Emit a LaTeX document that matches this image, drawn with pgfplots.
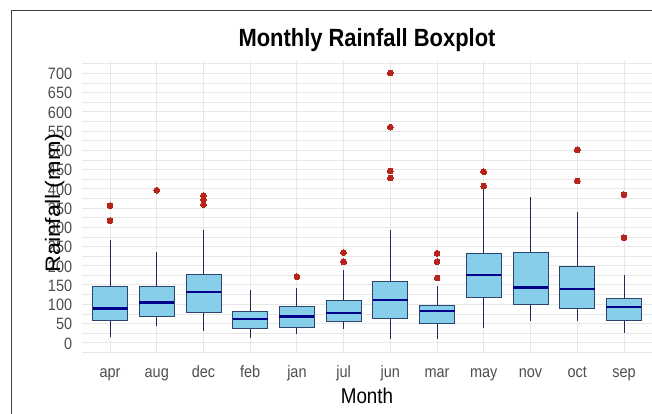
\documentclass[border=0pt]{standalone}
\usepackage{fontspec}
\setmainfont{Liberation Sans}
\usepackage{graphicx}
\usepackage{pgfplots}
\pgfplotsset{compat=1.18}
\usepgfplotslibrary{statistics}

\definecolor{skyfill}{HTML}{87CEEB}
\definecolor{boxedge}{HTML}{2B4470}
\definecolor{medblue}{HTML}{00008B}
\definecolor{whisk}{HTML}{1E2A55}
\definecolor{outred}{HTML}{B8231C}
\definecolor{gridc}{HTML}{E8E8E8}
\definecolor{tickc}{HTML}{4D4D4D}

% the source image is a little narrower than tall, so squeeze text sideways
\newcommand\sq[1]{\scalebox{0.88}[1]{#1}}

\pgfplotsset{
  bx/.style={
    mark=*, mark size=2.9bp,
    mark options={draw=outred, fill=outred, line width=0pt},
    draw=boxedge,
    boxplot/draw direction=y,
    boxplot/box extend=0.75,
    boxplot/whisker extend=0,
    boxplot/every box/.style={fill=skyfill, draw=boxedge, line width=0.9bp},
    boxplot/every whisker/.style={draw=whisk, line width=0.9bp},
    boxplot/every median/.style={draw=medblue, line width=2.3bp},
  },
}

\begin{document}
\begin{tikzpicture}
\begin{axis}[
  at={(82bp,61.5bp)}, anchor=south west,
  scale only axis,
  width=570bp, height=292.9bp,
  xmin=0.4, xmax=12.6,
  ymin=-25.6, ymax=735.6,
  xtick={1,...,12},
  xticklabels={\sq{apr},\sq{aug},\sq{dec},\sq{feb},\sq{jan},\sq{jul},\sq{jun},\sq{mar},\sq{may},\sq{nov},\sq{oct},\sq{sep}},
  ytick={0,50,...,700},
  minor ytick={-25,25,...,725},
  yticklabel={\sq{\pgfmathprintnumber{\tick}}},
  grid=both,
  major grid style={draw=gridc, line width=0.9bp},
  minor grid style={draw=gridc, line width=0.55bp},
  axis line style={draw=none},
  major tick length=0pt, minor tick length=0pt,
  /pgf/number format/assume math mode=true,
  ticklabel style={font=\fontsize{16.5}{18}\selectfont, text=tickc, inner sep=0pt},
  xticklabel style={anchor=base, yshift=-24.5bp},
  yticklabel style={anchor=east, xshift=-9.7bp, yshift=-0.8bp},
  clip=false,
]
% apr
\addplot[bx, boxplot prepared={draw position=1, lower whisker=14, lower quartile=57, median=89, upper quartile=147, upper whisker=268}] coordinates {(1,356) (1,317)};
% aug
\addplot[bx, boxplot prepared={draw position=2, lower whisker=42, lower quartile=69, median=104, upper quartile=147, upper whisker=235}] coordinates {(2,396)};
% dec
\addplot[bx, boxplot prepared={draw position=3, lower whisker=29, lower quartile=78, median=131, upper quartile=177, upper whisker=292}] coordinates {(3,382) (3,372) (3,359)};
% feb
\addplot[bx, boxplot prepared={draw position=4, lower whisker=11, lower quartile=36, median=62, upper quartile=81, upper whisker=137}] coordinates {};
% jan
\addplot[bx, boxplot prepared={draw position=5, lower whisker=23, lower quartile=39, median=68, upper quartile=94, upper whisker=142}] coordinates {(5,171)};
% jul
\addplot[bx, boxplot prepared={draw position=6, lower whisker=36, lower quartile=54, median=77, upper quartile=109, upper whisker=190}] coordinates {(6,234) (6,210)};
% jun
\addplot[bx, boxplot prepared={draw position=7, lower whisker=9, lower quartile=63, median=111, upper quartile=159, upper whisker=292}] coordinates {(7,701) (7,560) (7,446) (7,428)};
% mar
\addplot[bx, boxplot prepared={draw position=8, lower whisker=9, lower quartile=51, median=83, upper quartile=96, upper whisker=148}] coordinates {(8,232) (8,210) (8,168)};
% may
\addplot[bx, boxplot prepared={draw position=9, lower whisker=39, lower quartile=117, median=176, upper quartile=231, upper whisker=404}] coordinates {(9,444) (9,407)};
% nov
\addplot[bx, boxplot prepared={draw position=10, lower whisker=56, lower quartile=99, median=143, upper quartile=235, upper whisker=379}] coordinates {};
% oct
\addplot[bx, boxplot prepared={draw position=11, lower whisker=56, lower quartile=90, median=140, upper quartile=198, upper whisker=340}] coordinates {(11,501) (11,420)};
% sep
\addplot[bx, boxplot prepared={draw position=12, lower whisker=26, lower quartile=57, median=93, upper quartile=114, upper whisker=175}] coordinates {(12,384) (12,273)};
\end{axis}

% titles and labels
\node[anchor=base, inner sep=0pt] at (367bp,367.3bp) {\sq{\fontsize{25}{28}\selectfont\bfseries Monthly Rainfall Boxplot}};
\node[anchor=base, inner sep=0pt] at (367bp,10.7bp) {\sq{\fontsize{21.5}{24}\selectfont Month}};
\node[rotate=90, anchor=base, inner sep=0pt] at (60bp,211bp) {\scalebox{1.12}[1]{\fontsize{21}{24}\selectfont Rainfall (mm)}};

% screenshot frame
\draw[color=black!75, line width=1bp] (11bp,0bp) -- (11bp,403bp) -- (652bp,403bp);

\pgfresetboundingbox
\path[use as bounding box] (0bp,0bp) rectangle (652bp,414bp);
\end{tikzpicture}
\end{document}
